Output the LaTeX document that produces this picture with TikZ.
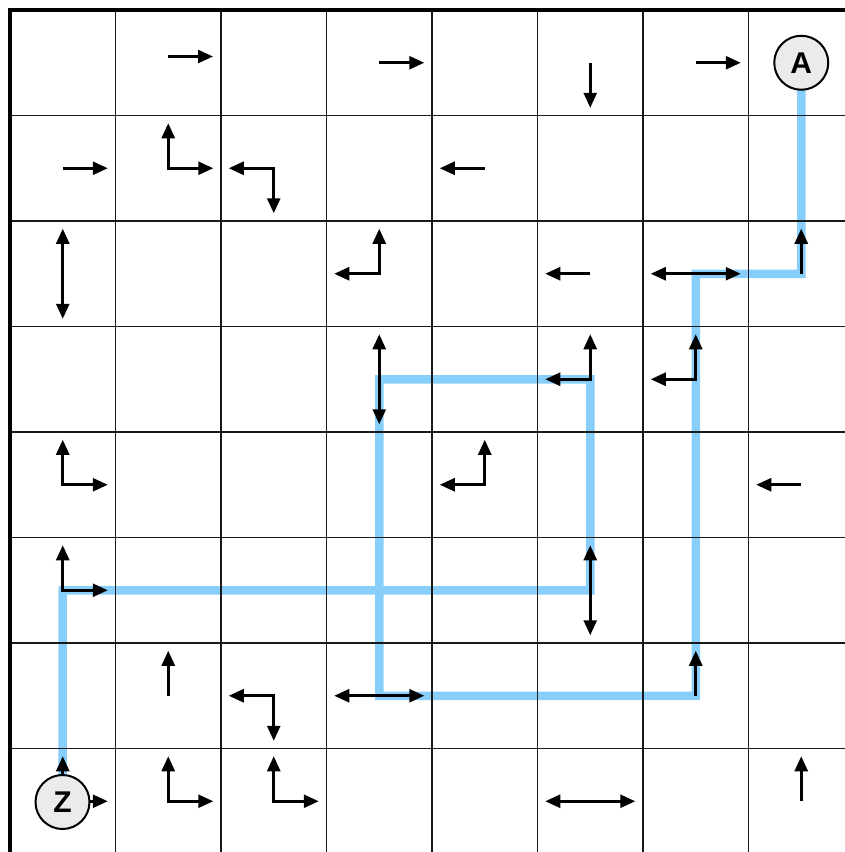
\documentclass[tikz,border=0pt]{standalone}
\usepackage{fontspec}
\setmainfont{Liberation Sans}
\usetikzlibrary{arrows.meta}
\definecolor{pathblue}{RGB}{135,206,250}
\definecolor{circfill}{RGB}{235,235,235}
\tikzset{
  gridline/.style={draw=black!90, line width=1.4pt},
  frameline/.style={draw=black, line width=3.2pt},
  arr/.style={draw=black, line width=2.6pt, -{Triangle[length=15pt,width=13pt]}},
  darr/.style={draw=black, line width=2.6pt, {Triangle[length=15pt,width=13pt]}-{Triangle[length=15pt,width=13pt]}},
  route/.style={draw=pathblue, line width=8.5pt, line join=miter},
  endpoint/.style={circle, draw=black, line width=2pt, fill=circfill, minimum size=54pt, inner sep=0pt,
    font=\bfseries\fontsize{30}{30}\selectfont}
}
\begin{document}
\begin{tikzpicture}[x=1pt,y=-1pt]
\useasboundingbox (0,0) rectangle (845,852);
\clip (0,0) rectangle (845,852);
% cell centres and arrow ends
\foreach \i in {0,...,7}{
  \foreach \j in {0,...,7}{
    \coordinate (c\j\i) at ({10+105.5*(\i+0.5)},{10+105.5*(\j+0.5)});
    \coordinate (c\j\i r) at ({10+105.5*(\i+0.5)+45},{10+105.5*(\j+0.5)});
    \coordinate (c\j\i l) at ({10+105.5*(\i+0.5)-45},{10+105.5*(\j+0.5)});
    \coordinate (c\j\i u) at ({10+105.5*(\i+0.5)},{10+105.5*(\j+0.5)-45});
    \coordinate (c\j\i d) at ({10+105.5*(\i+0.5)},{10+105.5*(\j+0.5)+45});
  }
}
\coordinate (s01) at (168,56.5);
\coordinate (s01r) at (213,56.5);
\coordinate (zc) at (62.5,802);
% route
\draw[route] (c07) -- (c27) -- (c26) -- (c66) -- (c63) -- (c33) -- (c35) -- (c55) -- (c50) -- (zc);
% grid
\foreach \k in {1,...,8}{
  \draw[gridline] ({10+105.5*\k},10) -- ({10+105.5*\k},860);
  \draw[gridline] (10,{10+105.5*\k}) -- (860,{10+105.5*\k});
}
\draw[frameline] (10,860) -- (10,10) -- (860,10);
% row 0
\draw[arr] (s01) -- (s01r);
\draw[arr] (c03) -- (c03r);
\draw[arr] (c05) -- (c05d);
\draw[arr] (c06) -- (c06r);
% row 1
\draw[arr] (c10) -- (c10r);
\draw[darr] (c11u) -- (c11) -- (c11r);
\draw[darr] (c12l) -- (c12) -- (c12d);
\draw[arr] (c14) -- (c14l);
% row 2
\draw[darr] (c20u) -- (c20d);
\draw[darr] (c23l) -- (c23) -- (c23u);
\draw[arr] (c25) -- (c25l);
\draw[darr] (c26l) -- (c26r);
\draw[arr] (c27) -- (c27u);
% row 3
\draw[darr] (c33u) -- (c33d);
\draw[darr] (c35l) -- (c35) -- (c35u);
\draw[darr] (c36l) -- (c36) -- (c36u);
% row 4
\draw[darr] (c40u) -- (c40) -- (c40r);
\draw[darr] (c44l) -- (c44) -- (c44u);
\draw[arr] (c47) -- (c47l);
% row 5
\draw[darr] (c50u) -- (c50) -- (c50r);
\draw[darr] (c55u) -- (c55d);
% row 6
\draw[arr] (c61) -- (c61u);
\draw[darr] (c62l) -- (c62) -- (c62d);
\draw[darr] (c63l) -- (c63r);
\draw[arr] (c66) -- (c66u);
% row 7
\draw[darr] (c70u) -- (c70) -- (c70r);
\draw[darr] (c71u) -- (c71) -- (c71r);
\draw[darr] (c72u) -- (c72) -- (c72r);
\draw[darr] (c75l) -- (c75r);
\draw[arr] (c77) -- (c77u);
% end points
\node[endpoint] (A) at (c07) {A};
\node[endpoint] (Z) at (zc) {Z};
\end{tikzpicture}
\end{document}
